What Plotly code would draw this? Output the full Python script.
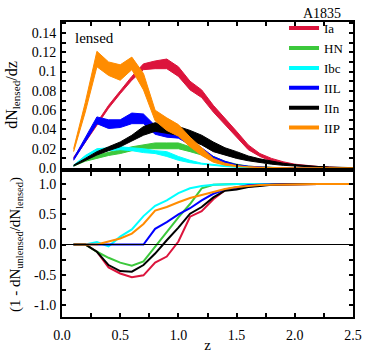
import plotly.graph_objects as go

# ---------------- data ----------------
z = [0.1, 0.2, 0.3, 0.4, 0.5, 0.6, 0.7, 0.8, 0.9, 1.0, 1.1, 1.2, 1.3, 1.4, 1.5,
     1.6, 1.7, 1.8, 1.9, 2.0, 2.1, 2.2, 2.3, 2.4, 2.5]

names = ["Ia", "HN", "Ibc", "IIL", "IIn", "IIP"]
colors = ["#dc143c", "#3cc83c", "#00ffff", "#0000ff", "#000000", "#ff8c00"]

# top panel: dN_lensed/dz bands (lower, upper)
ia_lo = [0.009, 0.027, 0.044, 0.062, 0.077, 0.091, 0.102, 0.103, 0.103, 0.095, 0.081, 0.073, 0.058, 0.045, 0.031,
         0.019, 0.012, 0.007, 0.0045, 0.0028, 0.0018, 0.0011, 0.0006, 0.0003, 0.0001]
ia_hi = [0.011, 0.029, 0.047, 0.065, 0.080, 0.095, 0.108, 0.111, 0.113, 0.105, 0.090, 0.081, 0.065, 0.052, 0.038,
         0.024, 0.015, 0.010, 0.0065, 0.0040, 0.0026, 0.0016, 0.0009, 0.0005, 0.0002]
hn_lo = [0.002, 0.007, 0.010, 0.013, 0.015, 0.018, 0.020, 0.020, 0.020, 0.020, 0.017, 0.0135, 0.008, 0.005, 0.003,
         0.0015, 0.0008, 0.0004, 0.0002, 0.0001, 0.0, 0.0, 0.0, 0.0, 0.0]
hn_hi = [0.003, 0.009, 0.0135, 0.016, 0.019, 0.022, 0.024, 0.026, 0.026, 0.026, 0.022, 0.017, 0.012, 0.007, 0.004,
         0.002, 0.0012, 0.0006, 0.0003, 0.0002, 0.0001, 0.0, 0.0, 0.0, 0.0]
ibc_lo = [0.002, 0.011, 0.017, 0.018, 0.019, 0.018, 0.016, 0.015, 0.012, 0.008, 0.0055, 0.004, 0.0025, 0.0015, 0.0008,
          0.0004, 0.0002, 0.0001, 0.0, 0.0, 0.0, 0.0, 0.0, 0.0, 0.0]
ibc_hi = [0.003, 0.013, 0.020, 0.021, 0.022, 0.021, 0.020, 0.018, 0.017, 0.012, 0.008, 0.005, 0.0035, 0.002, 0.0012,
          0.0006, 0.0003, 0.0002, 0.0001, 0.0, 0.0, 0.0, 0.0, 0.0, 0.0]
iil_lo = [0.008, 0.027, 0.046, 0.041, 0.042, 0.046, 0.046, 0.035, 0.032, 0.031, 0.024, 0.017, 0.009, 0.005, 0.0025,
          0.0013, 0.0007, 0.0004, 0.0002, 0.0001, 0.0, 0.0, 0.0, 0.0, 0.0]
iil_hi = [0.010, 0.031, 0.053, 0.050, 0.050, 0.057, 0.056, 0.044, 0.039, 0.038, 0.029, 0.021, 0.012, 0.007, 0.0035,
          0.0019, 0.0010, 0.0006, 0.0003, 0.0002, 0.0001, 0.0, 0.0, 0.0, 0.0]
iin_lo = [0.002, 0.008, 0.0135, 0.018, 0.022, 0.028, 0.034, 0.038, 0.036, 0.034, 0.029, 0.024, 0.017, 0.0135, 0.010,
          0.0075, 0.0055, 0.004, 0.0028, 0.0019, 0.0012, 0.0008, 0.0005, 0.0003, 0.0002]
iin_hi = [0.003, 0.010, 0.017, 0.022, 0.027, 0.034, 0.043, 0.047, 0.045, 0.043, 0.039, 0.034, 0.027, 0.021, 0.017,
          0.0125, 0.0095, 0.007, 0.005, 0.0035, 0.0024, 0.0016, 0.0010, 0.0006, 0.0004]
iip_lo = [0.017, 0.058, 0.105, 0.096, 0.091, 0.102, 0.081, 0.049, 0.039, 0.033, 0.022, 0.013, 0.006, 0.003, 0.0015,
          0.0008, 0.0004, 0.0002, 0.0001, 0.0, 0.0, 0.0, 0.0, 0.0, 0.0]
iip_hi = [0.020, 0.068, 0.121, 0.110, 0.107, 0.115, 0.098, 0.060, 0.052, 0.045, 0.032, 0.021, 0.010, 0.005, 0.0025,
          0.0013, 0.0007, 0.0004, 0.0002, 0.0001, 0.0, 0.0, 0.0, 0.0, 0.0]

# bottom panel: 1 - dN_unlensed/dN_lensed
ia_ratio = [0.0, 0.0, -0.12, -0.38, -0.48, -0.54, -0.51, -0.30, -0.20, 0.05, 0.46, 0.55, 0.75, 0.90, 0.93,
            0.96, 0.98, 0.99, 0.995, 1.0, 1.0, 1.0, 1.0, 1.0, 1.0]
hn_ratio = [0.0, 0.0, -0.12, -0.22, -0.30, -0.35, -0.28, -0.04, 0.21, 0.45, 0.67, 0.93, 0.99, 1.0, 1.0,
            1.0, 1.0, 1.0, 1.0, 1.0, 1.0, 1.0, 1.0, 1.0, 1.0]
ibc_ratio = [0.0, 0.0, 0.04, -0.03, 0.13, 0.25, 0.47, 0.64, 0.73, 0.85, 0.93, 0.97, 0.99, 1.0, 1.0,
             1.0, 1.0, 1.0, 1.0, 1.0, 1.0, 1.0, 1.0, 1.0, 1.0]
iil_ratio = [0.0, 0.0, 0.0, 0.0, 0.0, 0.0, 0.0, 0.26, 0.37, 0.50, 0.60, 0.73, 0.84, 0.91, 0.95,
             0.98, 0.99, 1.0, 1.0, 1.0, 1.0, 1.0, 1.0, 1.0, 1.0]
iin_ratio = [0.0, 0.0, -0.12, -0.34, -0.44, -0.45, -0.34, -0.15, 0.07, 0.28, 0.51, 0.62, 0.78, 0.89, 0.91,
             0.95, 0.97, 0.99, 0.995, 1.0, 1.0, 1.0, 1.0, 1.0, 1.0]
iip_ratio = [0.0, 0.0, 0.0, 0.05, 0.10, 0.18, 0.34, 0.56, 0.62, 0.70, 0.77, 0.82, 0.87, 0.92, 0.95,
             0.97, 0.985, 0.99, 0.995, 1.0, 1.0, 1.0, 1.0, 1.0, 1.0]

lows = [ia_lo, hn_lo, ibc_lo, iil_lo, iin_lo, iip_lo]
highs = [ia_hi, hn_hi, ibc_hi, iil_hi, iin_hi, iip_hi]
ratios = [ia_ratio, hn_ratio, ibc_ratio, iil_ratio, iin_ratio, iip_ratio]

x_ticks = [0.0, 0.5, 1.0, 1.5, 2.0, 2.5]
x_tick_text = ["0.0", "0.5", "1.0", "1.5", "2.0", "2.5"]
top_ticks = [0.0, 0.02, 0.04, 0.06, 0.08, 0.1, 0.12, 0.14]
top_tick_text = ["0.0", "0.02", "0.04", "0.06", "0.08", "0.1", "0.12", "0.14"]
bot_ticks = [-1.0, -0.5, 0.0, 0.5, 1.0]
bot_tick_text = ["-1.0", "-0.5", "0.0", "0.5", "1.0"]

# ---------------- figure ----------------
FONT = "Liberation Serif"
fig = go.Figure()

for name, col, lo, hi in zip(names, colors, lows, highs):
    fig.add_trace(go.Scatter(x=z, y=lo, mode="lines", line=dict(color=col, width=1),
                             xaxis="x2", yaxis="y2", showlegend=False, hoverinfo="skip"))
    fig.add_trace(go.Scatter(x=z, y=hi, mode="lines", line=dict(color=col, width=1),
                             fill="tonexty", fillcolor=col,
                             xaxis="x2", yaxis="y2", showlegend=False, hoverinfo="skip"))

fig.add_hline(y=0, line=dict(color="black", width=1), xref="x", yref="y")

for name, col, r in zip(names, colors, ratios):
    fig.add_trace(go.Scatter(x=z, y=r, mode="lines", line=dict(color=col, width=2),
                             xaxis="x", yaxis="y", showlegend=False, name=name))

for name, col in zip(names, colors):
    fig.add_trace(go.Scatter(x=[None], y=[None], mode="lines", line=dict(color=col, width=4),
                             name=name, xaxis="x2", yaxis="y2"))

axis_common = dict(showline=True, linecolor="black", linewidth=2, mirror="ticks",
                   ticks="inside", ticklen=4, tickwidth=1.5, tickcolor="black",
                   showgrid=False, zeroline=False, automargin=False,
                   tickfont=dict(family=FONT, size=14, color="black"))
minor_common = dict(ticks="inside", ticklen=4, tickcolor="black", tickwidth=1.5)

fig.update_layout(
    width=374, height=353,
    margin=dict(l=62, r=21, t=22, b=36, autoexpand=False),
    paper_bgcolor="white", plot_bgcolor="white",
    font=dict(family=FONT, color="black"),
    xaxis=dict(domain=[0, 1], range=[0, 2.5], anchor="y",
               tickvals=x_ticks, ticktext=x_tick_text, ticklabelstandoff=4,
               minor=dict(dtick=0.25, **minor_common),
               title=dict(text="z", font=dict(family=FONT, size=15), standoff=0),
               **axis_common),
    yaxis=dict(domain=[0, 0.4915], range=[-1.2, 1.2], anchor="x",
               tickvals=bot_ticks, ticktext=bot_tick_text, ticklabelstandoff=1,
               minor=dict(dtick=0.25, **minor_common),
               title=dict(text="(1 - dN<sub>unlensed</sub>/dN<sub>lensed</sub>)",
                          font=dict(family=FONT, size=15), standoff=10),
               **axis_common),
    xaxis2=dict(domain=[0, 1], range=[0, 2.5], anchor="y2", matches="x",
                tickvals=x_ticks, showticklabels=False,
                minor=dict(dtick=0.25, **minor_common),
                **axis_common),
    yaxis2=dict(domain=[0.505, 1], range=[0, 0.1514], anchor="x2",
                tickvals=top_ticks, ticktext=top_tick_text, ticklabelstandoff=1,
                minor=dict(dtick=0.01, **minor_common),
                title=dict(text="dN<sub>lensed</sub>/dz", font=dict(family=FONT, size=16), standoff=10),
                **axis_common),
    legend=dict(x=0.763, y=1.03, xanchor="left", yanchor="top", traceorder="normal",
                bgcolor="rgba(0,0,0,0)", font=dict(family=FONT, size=13, color="black"),
                tracegroupgap=0),
    showlegend=True,
)

fig.add_annotation(text="lensed", x=0.094, y=0.135, xref="x2", yref="y2",
                   xanchor="left", yanchor="middle", showarrow=False,
                   font=dict(family=FONT, size=15, color="black"))
fig.add_annotation(text="A1835", x=0.966, y=1.03, xref="paper", yref="paper",
                   xanchor="right", yanchor="middle", showarrow=False,
                   font=dict(family=FONT, size=14, color="black"))

fig.write_html("out.html", config={"displayModeBar": False},
               post_script="document.body.style.margin='0';")
